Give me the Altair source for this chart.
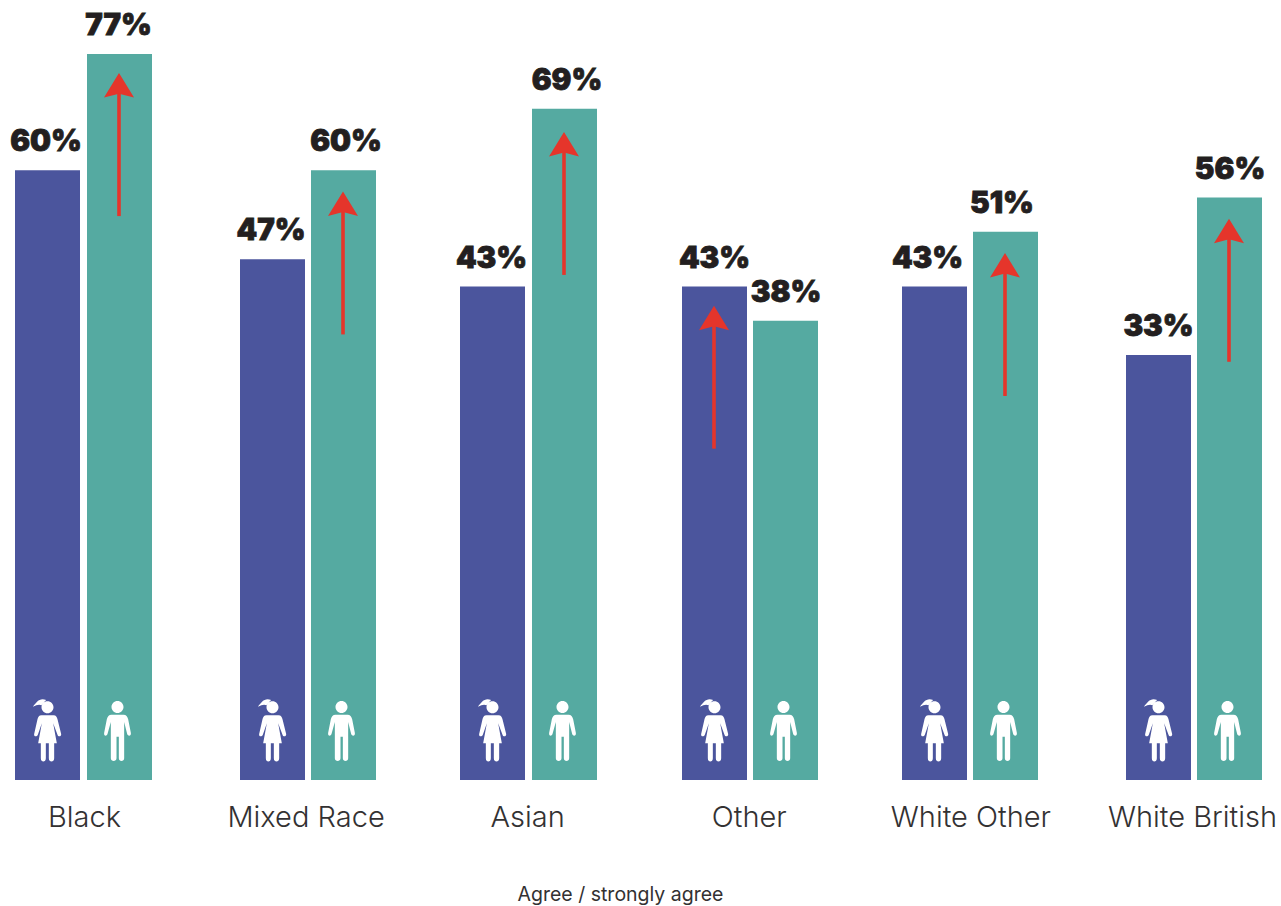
import re
import altair as alt
import pandas as pd

# Survey values, percent agreeing or strongly agreeing
groups = ["Black", "Mixed Race", "Asian", "Other", "White Other", "White British"]
women = [60, 47, 43, 43, 43, 33]
men = [77, 60, 69, 38, 51, 56]
# The arrow sits on whichever bar is taller
arrow_on = ["Men", "Men", "Men", "Women", "Men", "Men"]

# Layout settings, in pixels unless noted
BLUE, TEAL, RED = "#4B559D", "#55AAA1", "#E5352B"
INK, TEXT = "#231F20", "#333132"
FLOOR, CEILING = -29.14, 84.89  # value axis limits
WOMEN_DX = [-36.5, -33.1, -34.7, -34.3, -35.9, -33.5]
MEN_DX = [35.5, 37.9, 37.3, 36.7, 35.1, 37.5]
WOMEN_LABEL_SHIFT = [-1.5, -1.5, -1, 0, -7, 0]
MEN_LABEL_SHIFT = [-1, 2.5, 2.5, 0.5, -3.5, 0.5]
ARROW_TIP_DROP = [2.8, 3.1, 3.4, 2.8, 3.1, 3.1]  # value units below the bar top
ARROW_LENGTH = 20.9  # value units
ICON_Y = 731.5


def unit_path(path, cx, cy, scale):
    """Recentre an absolute-coordinate path and bring it to symbol units."""
    parts = re.findall(r"[A-Za-z]|-?\d+\.?\d*", path)
    out, axis = [], 0
    for part in parts:
        if part.isalpha():
            out.append(part)
            axis = 0
        else:
            origin = cx if axis == 0 else cy
            out.append(f"{(float(part) - origin) / scale:.4f}")
            axis = 1 - axis
    return " ".join(out)


WOMAN = unit_path(
    "M66 52 C66 42 74 34 84 34 C94 34 102 42 102 52 C102 62 94 70 84 70 C74 70 66 62 66 52 Z "
    "M80 30 C60 22 52 36 40 50 C52 44 60 42 66 46 L72 38 Z "
    "M66 76 L102 76 C110 76 112 82 114 88 L125 132 C126 140 116 142 114 134 L101 100 L112 160 "
    "L104 160 L104 205 C104 218 88 218 88 205 L88 160 L79 160 L79 205 C79 218 64 218 64 205 "
    "L64 160 L56 160 L67 100 L55 134 C52 142 42 140 44 132 L54 88 C56 82 58 76 66 76 Z",
    84, 124.5, 91.5,
)
MAN = unit_path(
    "M274 51 C274 41 282 33 292 33 C302 33 310 41 310 51 C310 61 302 69 292 69 C282 69 274 61 274 51 Z "
    "M274 74 L310 74 C318 74 322 80 324 88 L332 128 C334 138 324 140 321 132 L312 96 L312 205 "
    "C312 216 296 216 296 205 L296 140 L289 140 L289 205 C289 216 272 216 272 205 L272 96 "
    "L262 132 C259 140 250 138 252 128 L260 88 C262 80 266 74 274 74 Z",
    292, 124.5, 91.5,
)
ARROW_HEAD = "M0 0 L1 1.63 L0 1.37 L-1 1.63 Z"

rows = []
for i, g in enumerate(groups):
    rows.append({"group": g, "gender": "Women", "value": women[i], "label": f"{women[i]}%",
                 "dx": WOMEN_DX[i], "label_dx": WOMEN_DX[i] + WOMEN_LABEL_SHIFT[i],
                 "icon_dx": WOMEN_DX[i]})
    rows.append({"group": g, "gender": "Men", "value": men[i], "label": f"{men[i]}%",
                 "dx": MEN_DX[i], "label_dx": MEN_DX[i] + MEN_LABEL_SHIFT[i],
                 "icon_dx": MEN_DX[i] - 2})
bars = pd.DataFrame(rows)

arrows = pd.DataFrame(
    [
        {
            "group": g,
            "dx": (MEN_DX[i] if arrow_on[i] == "Men" else WOMEN_DX[i]) - 0.5,
            "tip": max(women[i], men[i]) - ARROW_TIP_DROP[i],
            "neck": max(women[i], men[i]) - ARROW_TIP_DROP[i] - 2,
            "tail": max(women[i], men[i]) - ARROW_TIP_DROP[i] - ARROW_LENGTH,
        }
        for i, g in enumerate(groups)
    ]
)

x = alt.X(
    "group:N",
    sort=groups,
    scale=alt.Scale(type="point", range=[84, 1192], padding=0),
    axis=alt.Axis(
        title="Agree / strongly agree",
        titleFont="Inter",
        titleFontSize=19.5,
        titleFontWeight=400,
        titleColor=TEXT,
        titleX=620,
        titleY=120,
        titleBaseline="alphabetic",
        titleAnchor="middle",
        labelFont="Inter",
        labelFontSize=29,
        labelFontWeight=300,
        labelColor=TEXT,
        labelAngle=0,
        labelPadding=23,
        labelOverlap=False,
        domain=False,
        ticks=False,
        grid=False,
    ),
)
y_scale = alt.Scale(domain=[FLOOR, CEILING])
y = alt.Y("value:Q", scale=y_scale, axis=None)
offset = alt.XOffset("dx:Q", scale=None)

bar_layer = alt.Chart(bars).mark_bar(width=65).encode(
    x=x,
    xOffset=offset,
    y=y,
    y2=alt.Y2(datum=FLOOR),
    color=alt.Color("gender:N", scale=alt.Scale(domain=["Women", "Men"], range=[BLUE, TEAL]), legend=None),
)

label_layer = alt.Chart(bars).mark_text(
    font="Inter", fontSize=29.5, fontWeight=900, color=INK, stroke=INK, strokeWidth=0.8,
    baseline="alphabetic", dy=-19
).encode(x=x, xOffset=alt.XOffset("label_dx:Q", scale=None), y=y, text="label:N")

woman_icons = alt.Chart(bars[bars.gender == "Women"]).mark_point(
    shape=WOMAN, size=3721, filled=True, fill="white", stroke=None, opacity=1
).encode(x=x, xOffset=alt.XOffset("icon_dx:Q", scale=None), y=alt.value(ICON_Y))

man_icons = alt.Chart(bars[bars.gender == "Men"]).mark_point(
    shape=MAN, size=3721, filled=True, fill="white", stroke=None, opacity=1
).encode(x=x, xOffset=alt.XOffset("icon_dx:Q", scale=None), y=alt.value(ICON_Y))

shafts = alt.Chart(arrows).mark_rule(color=RED, strokeWidth=3.6).encode(
    x=x,
    xOffset=offset,
    y=alt.Y("neck:Q", scale=y_scale, axis=None),
    y2="tail:Q",
)
heads = alt.Chart(arrows).mark_point(
    shape=ARROW_HEAD, size=900, filled=True, fill=RED, stroke=None, opacity=1
).encode(x=x, xOffset=offset, y=alt.Y("tip:Q", scale=y_scale, axis=None))

chart = (
    alt.layer(bar_layer, label_layer, woman_icons, man_icons, shafts, heads)
    .properties(
        width=1281,
        height=780,
        padding={"left": 0, "top": 0, "right": 0, "bottom": 126},
        autosize=alt.AutoSizeParams(type="none"),
        background="white",
    )
    .configure_view(stroke=None)
)

chart.save("out.html", embed_options={"renderer": "svg", "actions": False})
